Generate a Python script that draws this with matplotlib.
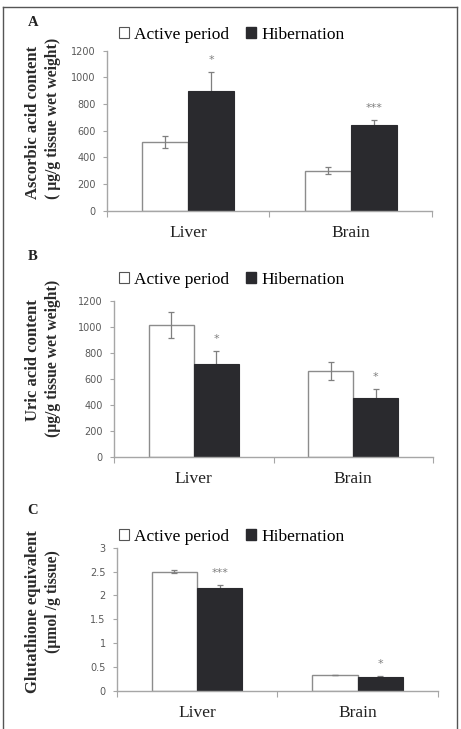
import matplotlib
matplotlib.use("Agg")
import matplotlib.pyplot as plt
import numpy as np
from matplotlib.patches import Patch
from matplotlib.lines import Line2D

categories = ["Liver", "Brain"]
series_names = ["Active period", "Hibernation"]

asc_active = [513, 300]
asc_active_err = [46, 28]
asc_hib = [900, 640]
asc_hib_err = [140, 42]
asc_sig = ["*", "***"]

uric_active = [1020, 665]
uric_active_err = [100, 70]
uric_hib = [720, 452]
uric_hib_err = [100, 72]
uric_sig = ["*", "*"]

gsh_active = [2.50, 0.33]
gsh_active_err = [0.03, 0.0]
gsh_hib = [2.16, 0.29]
gsh_hib_err = [0.05, 0.02]
gsh_sig = ["***", "*"]

asc_ticks = [0, 200, 400, 600, 800, 1000, 1200]
uric_ticks = [0, 200, 400, 600, 800, 1000, 1200]
gsh_ticks = [0, 0.5, 1, 1.5, 2, 2.5, 3]
gsh_ticklabels = ["0", "0.5", "1", "1.5", "2", "2.5", "3"]

W, H = 461, 729
fig = plt.figure(figsize=(W / 100, H / 100), dpi=100)

SERIF = "Liberation Serif"
SANS = "DejaVu Sans"
DARK = "#2a2a2e"
EDGE = "#8c8c8c"
AXC = "#a6a6a6"
TXT = "#595959"

def px_axes(l, r, b, t):
    return fig.add_axes([l / W, 1 - b / H, (r - l) / W, (b - t) / H])

panels = [
    dict(box=(106.7, 432, 210.7, 50.7), act=asc_active, acte=asc_active_err,
         hib=asc_hib, hibe=asc_hib_err, sig=asc_sig, ticks=asc_ticks,
         tl=[str(t) for t in asc_ticks], ymax=1200,
         lab="A", laby=22, legy=35,
         yl1=("Ascorbic acid content", 122), yl2=("( μg/g tissue wet weight)", 118)),
    dict(box=(114, 433, 457, 301.3), act=uric_active, acte=uric_active_err,
         hib=uric_hib, hibe=uric_hib_err, sig=uric_sig, ticks=uric_ticks,
         tl=[str(t) for t in uric_ticks], ymax=1200,
         lab="B", laby=257, legy=280,
         yl1=("Uric acid content", 360), yl2=("(μg/g tissue wet weight)", 358)),
    dict(box=(116.7, 438, 690.7, 547.7), act=gsh_active, acte=gsh_active_err,
         hib=gsh_hib, hibe=gsh_hib_err, sig=gsh_sig, ticks=gsh_ticks,
         tl=gsh_ticklabels, ymax=3,
         lab="C", laby=511, legy=537,
         yl1=("Glutathione equivalent", 612), yl2=("(μmol /g tissue)", 602)),
]

bw = 0.283
x = np.arange(len(categories))

for p in panels:
    l, r, b, t = p["box"]
    ax = px_axes(l, r, b, t)
    ax.bar(x - bw / 2, p["act"], bw, color="white", edgecolor=EDGE, linewidth=1.0, zorder=2)
    ax.bar(x + bw / 2, p["hib"], bw, color=DARK, edgecolor=DARK, linewidth=0.8, zorder=2)
    ax.errorbar(x - bw / 2, p["act"], yerr=p["acte"], fmt="none", ecolor="#7f7f7f",
                elinewidth=0.9, capsize=2.5, capthick=0.9, zorder=3)
    ax.errorbar(x + bw / 2, p["hib"], yerr=p["hibe"], fmt="none", ecolor="#7f7f7f",
                elinewidth=0.9, capsize=2.5, capthick=0.9, zorder=1)
    for xi, v, e, s in zip(x, p["hib"], p["hibe"], p["sig"]):
        ax.annotate(s, (xi + bw / 2, v + e), xytext=(0, 5), textcoords="offset points",
                    ha="center", va="bottom", fontsize=8, color="#7f7f7f", family=SANS)
    ax.set_xlim(-0.5, 1.5)
    ax.set_ylim(0, p["ymax"])
    ax.set_yticks(p["ticks"])
    ax.set_yticklabels(p["tl"], fontsize=7, color=TXT, family=SANS)
    ax.set_xticks([-0.5, 0.5, 1.5], minor=False)
    ax.set_xticklabels(["", "", ""])
    ax.set_xticks(x, minor=True)
    ax.set_xticklabels(categories, minor=True, fontsize=12.5, family=SERIF, color="#222222")
    ax.tick_params(axis="x", which="minor", length=0, pad=10)
    ax.tick_params(axis="x", which="major", length=4, color=AXC, direction="out")
    ax.tick_params(axis="y", length=3, color=AXC, direction="out", pad=5)
    for sp in ["top", "right"]:
        ax.spines[sp].set_visible(False)
    for sp in ["left", "bottom"]:
        ax.spines[sp].set_color(AXC)
        ax.spines[sp].set_linewidth(1.0)
    ax.set_facecolor("none")

    fig.text(33 / W, 1 - p["laby"] / H, p["lab"], fontsize=10.5, fontweight="bold",
             family=SERIF, ha="center", va="center", color="#222222")
    fig.text(33 / W, 1 - p["yl1"][1] / H, p["yl1"][0], rotation=90, fontsize=12,
             fontweight="bold", family=SERIF, ha="center", va="center", color="#2a2a2a")
    fig.text(53 / W, 1 - p["yl2"][1] / H, p["yl2"][0], rotation=90, fontsize=11.3,
             fontweight="bold", family=SERIF, ha="center", va="center", color="#2a2a2a")

    handles = [Patch(facecolor="white", edgecolor="#555555", linewidth=0.8),
               Patch(facecolor=DARK, edgecolor=DARK)]
    fig.legend(handles, series_names, loc="center left",
               bbox_to_anchor=(119 / W, 1 - p["legy"] / H), ncol=2, frameon=False,
               handlelength=0.55, handleheight=0.6, handletextpad=0.3, columnspacing=1.0,
               borderpad=0, borderaxespad=0,
               prop=dict(family=SERIF, size=12.5))

# figure border (left, top, right)
fig.add_artist(Line2D([3 / W, 3 / W], [0, 1 - 7 / H], transform=fig.transFigure,
                      color="#555555", linewidth=1.0))
fig.add_artist(Line2D([3 / W, 457 / W], [1 - 7 / H, 1 - 7 / H], transform=fig.transFigure,
                      color="#555555", linewidth=1.0))
fig.add_artist(Line2D([457 / W, 457 / W], [0, 1 - 7 / H], transform=fig.transFigure,
                      color="#555555", linewidth=1.0))

fig.savefig("out.png", dpi=100)
